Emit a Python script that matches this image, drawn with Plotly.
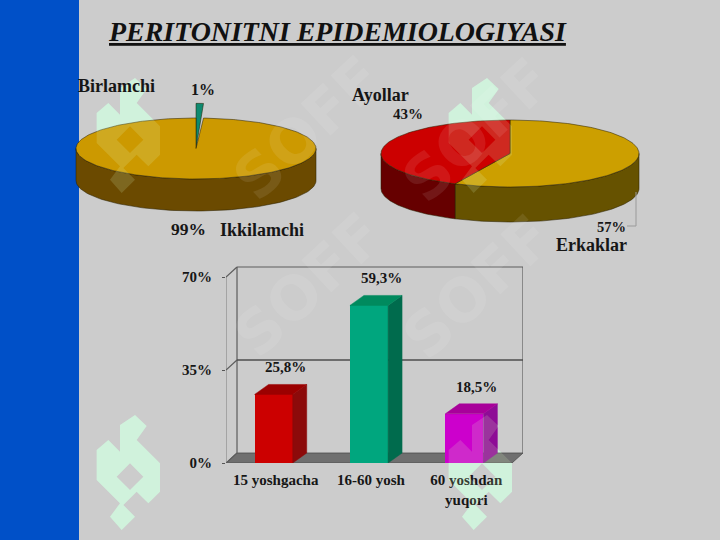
import numpy as np
import plotly.graph_objects as go

W, H = 720, 540
TITLE = "PERITONITNI EPIDEMIOLOGIYASI"

first_labels = ["Ikkilamchi", "Birlamchi"]
first_values = [99, 1]
second_labels = ["Erkaklar", "Ayollar"]
second_values = [57, 43]

age_groups = ["15 yoshgacha", "16-60 yosh", "60 yoshdan<br>yuqori"]
age_values = [25.8, 59.3, 18.5]
age_value_text = ["25,8%", "59,3%", "18,5%"]
y_ticks = [0, 35, 70]
y_tick_text = ["0%", "35%", "70%"]

SERIF = "Liberation Serif"
INK = "#161616"
BG = "#cccccc"


def px(x):
    return x / W


def py(y):
    return 1 - y / H


fig = go.Figure()


def ell(theta, depth=0.0, stretch=1.0):
    """theta is measured clockwise from the top of the pie."""
    return np.sin(theta), np.cos(theta) * stretch - depth


def add_poly(x, y, fill, xa, ya, line="rgba(40,30,0,0.75)", lw=0.7):
    fig.add_trace(go.Scatter(x=list(x), y=list(y), mode="lines", fill="toself",
                             fillcolor=fill, line=dict(color=line, width=lw),
                             xaxis=xa, yaxis=ya, hoverinfo="skip", showlegend=False))


def add_pie(values, tops, sides, xa, ya, depth, exploded=None):
    total = sum(values)
    start = 0.0
    for v, top, side, in zip(values, tops, sides):
        end = start + 2 * np.pi * v / total
        a, b = max(start, np.pi / 2), min(end, 3 * np.pi / 2)
        if a < b:
            th = np.linspace(a, b, 90)
            x0, y0 = ell(th)
            x1, y1 = ell(th[::-1], depth)
            add_poly(np.r_[x0, x1, x0[0]], np.r_[y0, y1, y0[0]], side, xa, ya)
        start = end
    start = 0.0
    for idx, (v, top) in enumerate(zip(values, tops)):
        end = start + 2 * np.pi * v / total
        stretch = 1.0
        if exploded == idx:
            stretch = 1.48
        th = np.linspace(start, end, max(4, int(v * 3)))
        x0, y0 = ell(th, 0, stretch)
        add_poly(np.r_[0, x0, 0], np.r_[0, y0, 0], top, xa, ya)
        start = end


def pie_axes(name, box, cx, cy, rx, ry):
    l, r, t, b = box
    fig.layout[f"xaxis{name}"] = dict(domain=[px(l), px(r)], range=[(l - cx) / rx, (r - cx) / rx],
                                      visible=False, fixedrange=True, automargin=False)
    fig.layout[f"yaxis{name}"] = dict(domain=[py(b), py(t)], range=[(cy - b) / ry, (cy - t) / ry],
                                      visible=False, fixedrange=True, anchor=f"x{name}", automargin=False)


pie_axes("", (70, 325, 95, 216), 196, 148.5, 120, 30.5)
pie_axes("2", (375, 645, 110, 228), 510, 153.5, 129, 33.5)
fig.layout.xaxis.anchor = "y"
fig.layout.yaxis2.anchor = "x2"

# ordering: the exploded sliver first clockwise from the top
add_pie(first_values[::-1], ["#0e8a70", "#cc9900"], ["#06503f", "#6b4a00"], "x", "y", 32 / 30.5, exploded=0)
add_pie(second_values, ["#cc9f00", "#cc0000"], ["#665200", "#660000"], "x2", "y2", 35 / 33.5)

# ---- bar chart ----
PX_CAT = 95.33
PX_UNIT = 186 / 70
BAR_W = 0.4
BAR_DX = 14 / PX_CAT
BAR_DY = 10 / PX_UNIT
WALL_DX = 11 / PX_CAT
WALL_DY = 10 / PX_UNIT
X0 = -0.5
X1 = 2.5
BX_L, BX_R, BY_T, BY_B = 226, 523, 266, 463
fronts = ["#cc0000", "#00a67e", "#cc00cc"]
sides3d = ["#8c0a0a", "#006b4d", "#8e0c96"]
tops3d = ["#9b0000", "#008a5e", "#a8009a"]
xs = list(range(len(age_values)))

fig.add_trace(go.Bar(x=xs, y=age_values, width=BAR_W, marker=dict(color=fronts, line=dict(width=0)),
                     xaxis="x3", yaxis="y3", showlegend=False, hoverinfo="skip"))
for i, v in zip(xs, age_values):
    l, r = i - BAR_W / 2, i + BAR_W / 2
    add_poly([r, r + BAR_DX, r + BAR_DX, r, r], [0, BAR_DY, v + BAR_DY, v, 0], sides3d[i], "x3", "y3", line=sides3d[i], lw=0.5)
    add_poly([l, l + BAR_DX, r + BAR_DX, r, l], [v, v + BAR_DY, v + BAR_DY, v, v], tops3d[i], "x3", "y3", line=tops3d[i], lw=0.5)

fig.layout.xaxis3 = dict(domain=[px(BX_L), px(BX_R)], range=[X0, X1 + WALL_DX], anchor="y3", automargin=False,
                         tickvals=xs, ticktext=age_groups, ticks="", showgrid=False, zeroline=False,
                         showline=False, fixedrange=True, ticklabelstandoff=6, ticklabelshift=2,
                         tickfont=dict(family=SERIF, size=15, color=INK, weight="bold"))
fig.layout.yaxis3 = dict(domain=[py(BY_B), py(BY_T)], range=[0, (BY_B - BY_T) / PX_UNIT], anchor="x3", automargin=False,
                         tickvals=y_ticks, ticktext=y_tick_text, ticks="outside", ticklen=3,
                         tickcolor="#555555", showgrid=False, zeroline=False, showline=False,
                         fixedrange=True, ticklabelstandoff=7,
                         tickfont=dict(family=SERIF, size=15, color=INK, weight="bold"))

shapes = []
shapes.append(dict(type="rect", xref="paper", yref="paper", x0=0, x1=px(79), y0=0, y1=1,
                   fillcolor="#0050c8", line_width=0, layer="below"))

# watermark logo: strong below the marks, faint on top of them
stencil = [(150, 345), (185, 378), (155, 420), (225, 490), (225, 575), (190, 610), (155, 575), (115, 615),
           (150, 650), (110, 690), (75, 650), (105, 610), (35, 540), (35, 450), (70, 420), (105, 455), (105, 375)]
hole = [(135, 490), (175, 530), (135, 570), (95, 530)]
for dx, dy in [(0, 0), (352, 0), (0, -337), (352, -337)]:
    def pts(seq):
        return " L".join(f"{px(85 + a / 3 + dx)},{py(300 + b / 3 + dy)}" for a, b in seq)
    path = f"M{pts(stencil)} Z M{pts(hole)} Z"
    shapes.append(dict(type="path", xref="paper", yref="paper", layer="below",
                       fillcolor="#cdf0e0", line_width=0, path=path))
    shapes.append(dict(type="path", xref="paper", yref="paper", layer="above",
                       fillcolor="rgba(225,255,200,0.16)", line_width=0, path=path))


def frame_line(xa, ya, xb, yb, color="#5c5c5c", w=1.2):
    shapes.append(dict(type="line", xref="x3", yref="y3", x0=xa, y0=ya, x1=xb, y1=yb,
                       line=dict(color=color, width=w), layer="below"))


xbl, xbr = X0 + WALL_DX, X1 + WALL_DX
top_wall = y_ticks[-1] + WALL_DY
shapes.append(dict(type="path", xref="x3", yref="y3", layer="below", fillcolor="#6f6f6f",
                   line=dict(color="#4c4c4c", width=0.8),
                   path=f"M{X0},0 L{xbl},{WALL_DY} L{xbr},{WALL_DY} L{X1},0 Z"))
frame_line(xbl, WALL_DY, xbl, top_wall)
frame_line(xbl, top_wall, xbr, top_wall)
frame_line(xbr, WALL_DY, xbr, top_wall)
frame_line(X0, 0, X0, y_ticks[-1], "#8a8a8a")
for t in y_ticks:
    frame_line(X0, t, xbl, t + WALL_DY)
frame_line(xbl, y_ticks[1] + WALL_DY, xbr, y_ticks[1] + WALL_DY, "#4e4e4e", 1.4)

# leader line of the second pie
shapes.append(dict(type="path", xref="paper", yref="paper", layer="above",
                   line=dict(color="#9a9a9a", width=1),
                   path=f"M{px(636)},{py(192)} L{px(636)},{py(226)} L{px(627)},{py(226)}"))


def label(text, x, y, size, anchor="center", color=INK, **font):
    fig.add_annotation(text=text, xref="paper", yref="paper", x=px(x), y=py(y), xanchor=anchor, yanchor="middle",
                       showarrow=False, font=dict(family=SERIF, size=size, color=color, weight="bold", **font))


for cx, cy in [(217, 373), (568, 375), (217, 40), (568, 42)]:
    fig.add_annotation(text="SOFF", xref="paper", yref="paper", x=px(cx), y=py(cy), showarrow=False, textangle=-43,
                       font=dict(family="DejaVu Sans", size=60, color="rgba(255,255,255,0.09)", weight="bold"))

fig.add_annotation(text=f"<u>{TITLE}</u>", xref="paper", yref="paper", x=px(106), y=py(32), xanchor="left",
                   yanchor="middle", showarrow=False,
                   font=dict(family=SERIF, size=27.9, color="#111111", weight="bold", style="italic"))

label(first_labels[1], 76, 86, 18, "left")
label(f"{first_values[1]}%", 203, 90, 16)
label(f"{first_values[0]}%", 188, 229, 17.5)
label(first_labels[0], 218, 230, 18, "left")
label(second_labels[1], 350, 95, 18, "left")
label(f"{second_values[1]}%", 408, 114, 15)
label(f"{second_values[0]}%", 611, 227, 14.5)
label(second_labels[0], 591, 245, 18)

for i, v, t in zip(xs, age_values, age_value_text):
    fig.add_annotation(text=t, xref="x3", yref="y3", x=i, y=v, xshift=12, yshift=27, showarrow=False,
                       font=dict(family=SERIF, size=15, color=INK, weight="bold"))

fig.update_layout(width=W, height=H, margin=dict(l=0, r=0, t=0, b=0, autoexpand=False), paper_bgcolor=BG,
                  plot_bgcolor="rgba(0,0,0,0)", shapes=shapes, showlegend=False, bargap=0)
fig.write_html("out.html", config={"displayModeBar": False},
               post_script="document.body.style.margin='0';document.documentElement.style.overflow='hidden';")
